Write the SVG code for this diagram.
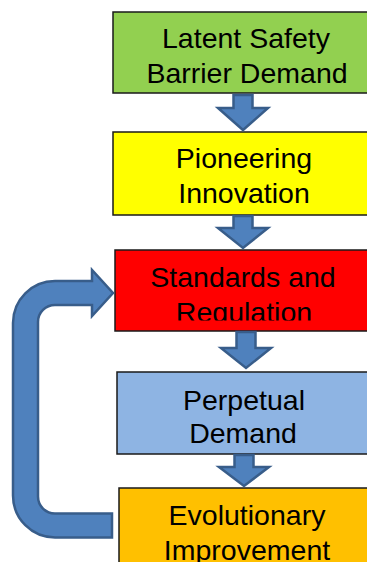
<svg xmlns="http://www.w3.org/2000/svg" width="367" height="562" viewBox="0 0 367 562">
<style>
.box{stroke:#1a1a1a;stroke-width:1.5}
.lbl{font-family:"Liberation Sans",Arial,sans-serif;font-size:28.5px;fill:#000;text-anchor:middle}
.arr{fill:#4F81BD;stroke:#385D8A;stroke-width:2.5;stroke-linejoin:miter}
</style>
<defs>
<clipPath id="clipRed"><rect x="115" y="250" width="270" height="70.5"/></clipPath>
</defs>
<rect x="0" y="0" width="367" height="562" fill="#fff"/>
<g id="latent">
<rect class="box" x="113" y="12" width="270" height="81" fill="#92D050"/>
<text class="lbl" x="246" y="48">Latent Safety</text>
<text class="lbl" x="247" y="83">Barrier Demand</text>
</g>
<g id="pioneering">
<rect class="box" x="113" y="132" width="270" height="83" fill="#FFFF00"/>
<text class="lbl" x="244" y="168">Pioneering</text>
<text class="lbl" x="244" y="203">Innovation</text>
</g>
<g id="standards">
<rect class="box" x="115" y="250" width="270" height="81" fill="#FF0000"/>
<g clip-path="url(#clipRed)">
<text class="lbl" x="243" y="287">Standards and</text>
<text class="lbl" x="244" y="322">Regulation</text>
</g>
</g>
<g id="perpetual">
<rect class="box" x="117" y="372" width="270" height="82" fill="#8EB4E3"/>
<text class="lbl" x="244" y="410">Perpetual</text>
<text class="lbl" x="243" y="443">Demand</text>
</g>
<g id="evolutionary">
<rect class="box" x="119" y="488" width="270" height="90" fill="#FFC000"/>
<text class="lbl" x="247" y="525">Evolutionary</text>
<text class="lbl" x="247" y="560">Improvement</text>
</g>
<g id="connectors">
<path class="arr" d="M 233.5 95 H 252.5 V 108 H 268 L 243 130 L 218 108 H 233.5 Z"/>
<path class="arr" d="M 233.5 216 H 252.5 V 228 H 268 L 243 248 L 218 228 H 233.5 Z"/>
<path class="arr" d="M 236.5 332 H 255.5 V 348 H 271 L 246 368 L 221 348 H 236.5 Z"/>
<path class="arr" d="M 234.5 455 H 253.5 V 467 H 269 L 244 486 L 219 467 H 234.5 Z"/>
<path class="arr" d="M 112 537.5 L 55 537.5 A 42 42 0 0 1 13 495.5 L 13 323 A 42 42 0 0 1 55 281 L 92 281 L 92 270 L 113 293 L 92 316 L 92 305 L 55 305 A 17 17 0 0 0 38 322 L 38 496.5 A 17 17 0 0 0 55 513.5 L 112 513.5 Z"/>
</g>
</svg>
